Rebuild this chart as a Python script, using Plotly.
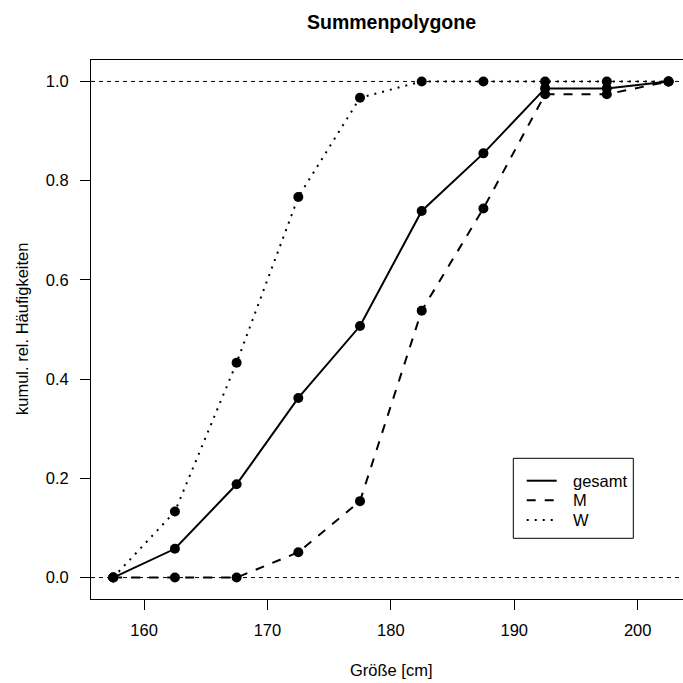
import plotly.graph_objects as go

# ---- data ----
groesse = [157.5, 162.5, 167.5, 172.5, 177.5, 182.5, 187.5, 192.5, 197.5, 202.5]
gesamt = [0.000, 0.058, 0.188, 0.362, 0.507, 0.739, 0.855, 0.986, 0.986, 1.000]
maenner = [0.000, 0.000, 0.000, 0.051, 0.154, 0.538, 0.744, 0.974, 0.974, 1.000]
frauen = [0.000, 0.133, 0.433, 0.767, 0.967, 1.000, 1.000, 1.000, 1.000, 1.000]
series_names = ["gesamt", "M", "W"]
x_ticks = [160, 170, 180, 190, 200]
y_ticks = [0.0, 0.2, 0.4, 0.6, 0.8, 1.0]
y_ticklabels = ["0.0", "0.2", "0.4", "0.6", "0.8", "1.0"]
ref_lines = [0.0, 1.0]

FONT = "Liberation Sans, Arial, Helvetica, sans-serif"
FS = 16.5
styles = [
    dict(dash="solid", width=2),
    dict(dash="9px,9px", width=2),
    dict(dash="2px,6px", width=2),
]

fig = go.Figure()
for name, ys, st in zip(series_names, [gesamt, maenner, frauen], styles):
    fig.add_trace(go.Scatter(
        x=groesse, y=ys, mode="lines+markers", name=name,
        line=dict(color="black", width=st["width"], dash=st["dash"]),
        marker=dict(color="black", size=10, line=dict(width=0)),
        showlegend=False,
    ))

shapes = []
for yv in ref_lines:
    shapes.append(dict(type="line", xref="paper", x0=0, x1=1, yref="y", y0=yv, y1=yv,
                       line=dict(color="black", width=1, dash="4px,4px"), layer="above"))

# manual legend (paper coordinates)
L = 91.0
PW = 592.0
PB = 599.0
PH = 539.0
def px(xp):
    return (xp - L) / PW
def py(yp):
    return (PB - yp) / PH

shapes.append(dict(type="rect", xref="paper", yref="paper",
                   x0=px(513.3), x1=px(633.3), y0=py(538.3), y1=py(458.3),
                   line=dict(color="black", width=1), fillcolor="white", layer="above"))
rows = [480.7, 500.2, 520.0]
annotations = []
for name, st, ry in zip(series_names, styles, rows):
    shapes.append(dict(type="line", xref="paper", yref="paper",
                       x0=px(526.7), x1=px(556.7), y0=py(ry), y1=py(ry),
                       line=dict(color="black", width=st["width"], dash=st["dash"]), layer="above"))
    annotations.append(dict(xref="paper", yref="paper", x=px(570.7), y=py(ry),
                            text=name, showarrow=False, xanchor="left", yanchor="middle",
                            font=dict(family=FONT, size=FS, color="black")))

# axis titles
annotations.append(dict(xref="paper", yref="paper", x=px(391.5), y=py(670),
                        text="Größe [cm]", showarrow=False, xanchor="center", yanchor="middle",
                        font=dict(family=FONT, size=FS, color="black")))
annotations.append(dict(xref="paper", yref="paper", x=px(22), y=py(329),
                        text="kumul. rel. Häufigkeiten", showarrow=False, textangle=-90,
                        xanchor="center", yanchor="middle",
                        font=dict(family=FONT, size=FS, color="black")))
# title
annotations.append(dict(xref="paper", yref="paper", x=px(391.5), y=py(22),
                        text="<b>Summenpolygone</b>", showarrow=False, xanchor="center", yanchor="middle",
                        font=dict(family=FONT, size=19.5, color="black")))

fig.update_layout(
    width=683, height=683,
    margin=dict(l=91, r=0, t=60, b=84, pad=0),
    paper_bgcolor="white", plot_bgcolor="white",
    font=dict(family=FONT, size=FS, color="black"),
    shapes=shapes, annotations=annotations,
    showlegend=False,
)
fig.update_xaxes(
    range=[155.7, 155.7 + 592 / 12.34], tickvals=x_ticks, ticktext=[str(v) for v in x_ticks],
    showgrid=False, zeroline=False, showline=True, linecolor="black", linewidth=1, mirror=True,
    ticks="outside", ticklen=10, tickcolor="black", tickwidth=1,
    tickfont=dict(family=FONT, size=FS, color="black"), ticklabelstandoff=6,
)
fig.update_yaxes(
    range=[-0.0432, 1.0432], tickvals=y_ticks, ticktext=y_ticklabels,
    showgrid=False, zeroline=False, showline=True, linecolor="black", linewidth=1, mirror=False,
    ticks="outside", ticklen=10, tickcolor="black", tickwidth=1,
    tickfont=dict(family=FONT, size=FS, color="black"), ticklabelstandoff=8,
)

fig.write_html("out.html")
